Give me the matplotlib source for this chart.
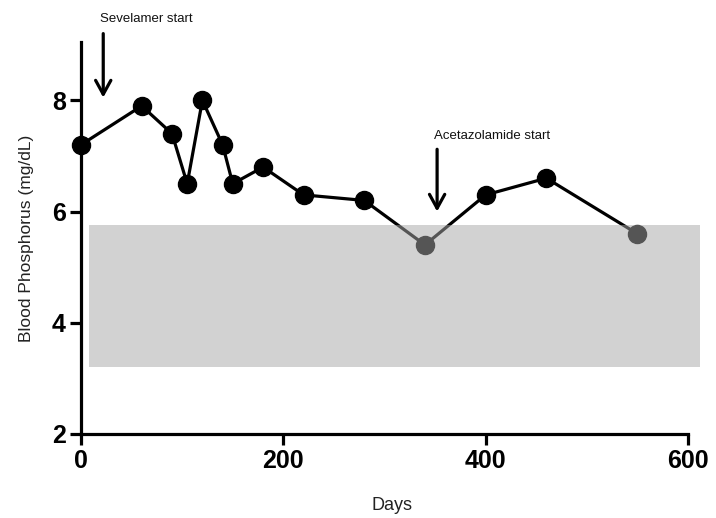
import matplotlib
matplotlib.use("Agg")
import matplotlib.pyplot as plt
from matplotlib import font_manager

# ---------------------------------------------------------------------
days = [0, 60, 90, 105, 120, 140, 150, 180, 220, 280, 340, 400, 460, 550]
phosphorus = [7.2, 7.9, 7.4, 6.5, 8.0, 7.2, 6.5, 6.8, 6.3, 6.2, 5.4, 6.3, 6.6, 5.6]

normal_low, normal_high = 3.2, 5.75
normal_start, normal_end = 8, 612

x_ticks = [0, 200, 400, 600]
y_ticks = [2, 4, 6, 8]

events = ["Sevelamer start", "Acetazolamide start"]
event_day = [22, 352]
event_tip = [8.05, 6.0]
event_tail = [9.2, 7.12]
event_text_pos = [(65, 9.46), (406, 7.35)]
# ---------------------------------------------------------------------

names = {f.name for f in font_manager.fontManager.ttflist}
narrow = "Liberation Sans Narrow" if "Liberation Sans Narrow" in names else "Liberation Sans"
plt.rcParams["font.family"] = [narrow, "DejaVu Sans"]

fig = plt.figure(figsize=(7.16, 5.18), dpi=100)
ax = fig.add_axes([0.1131, 0.1622, 0.869, 0.7568])

ax.plot(days, phosphorus, color="black", lw=2.3, marker="o", ms=13,
        mfc="black", mec="black", zorder=2, clip_on=False)

# reference range drawn on top, semi-transparent so it darkens the line
ax.fill_between([normal_start, normal_end], normal_low, normal_high,
                color="#a8a8a8", alpha=0.51, lw=0, zorder=3)

for name, d, tip, tail, pos in zip(events, event_day, event_tip, event_tail, event_text_pos):
    ax.annotate("", xy=(d, tip), xytext=(d, tail),
                arrowprops=dict(arrowstyle="->,head_length=1.0,head_width=0.55",
                                lw=2.3, color="black", shrinkA=0, shrinkB=0),
                annotation_clip=False, zorder=4)
    ax.text(pos[0], pos[1], name, ha="center", va="center", fontsize=9.5,
            family="Liberation Sans", color="#111111")

ax.set_xlim(0, 615)
ax.set_ylim(2, 9.05)
ax.spines["top"].set_visible(False)
ax.spines["right"].set_visible(False)
ax.spines["left"].set_linewidth(2.3)
ax.spines["bottom"].set_linewidth(2.3)
ax.spines["bottom"].set_bounds(0, 600)

ax.set_xticks(x_ticks)
ax.set_yticks(y_ticks)
ax.tick_params(axis="both", direction="out", length=8, width=2.3, labelsize=18, pad=3)
for lab in ax.get_xticklabels() + ax.get_yticklabels():
    lab.set_fontweight("bold")

ax.set_xlabel("Days", fontsize=13, family="Liberation Sans", labelpad=17, color="#222222")
ax.set_ylabel("Blood Phosphorus (mg/dL)", fontsize=12.5, family="Liberation Sans",
              labelpad=13, color="#222222")

fig.savefig("out.png", dpi=100)
